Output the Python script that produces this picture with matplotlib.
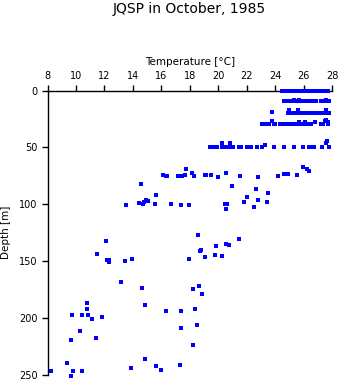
import matplotlib
matplotlib.use('Agg')
import matplotlib.pyplot as plt

# temperature [degC] at the standard bottle depths near the surface
t_0m = [24.5, 24.6, 24.7, 24.8, 24.9, 25.0, 25.1, 25.2, 25.3, 25.4, 25.5, 25.6,
        25.7, 25.8, 25.9, 26.0, 26.1, 26.2, 26.3, 26.4, 26.5, 26.8, 26.95,
        27.25, 27.4, 27.5, 27.6, 27.75]
t_10m = [24.6, 24.7, 24.8, 24.9, 25.0, 25.1, 25.2, 25.3, 25.4, 25.5, 25.6, 25.7,
         25.8, 25.9, 26.0, 26.1, 26.2, 26.3, 26.4, 26.5, 26.75, 26.9,
         27.2, 27.3, 27.4, 27.5, 27.6, 27.7, 27.8]
t_20m = [24.9, 25.0, 25.1, 25.2, 25.3, 25.4, 25.5, 25.6, 25.7, 25.8, 25.9, 26.0,
         26.1, 26.2, 26.3, 26.4, 26.65, 26.8, 26.95,
         27.25, 27.35, 27.45, 27.55, 27.65, 27.8]
t_30m = [23.05, 23.2, 23.35, 23.45, 23.6, 23.9, 24.0, 24.35, 24.5, 24.6, 24.7,
         24.9, 25.0, 25.2, 25.3, 25.45, 25.6, 25.8, 25.9, 26.0, 26.2, 26.3,
         26.4, 26.55, 27.25, 27.4, 27.75]
t_50m = [19.4, 19.55, 19.75, 19.9, 20.25, 20.45, 20.75, 21.05, 21.45, 21.6,
         22.0, 22.15, 22.3, 22.7, 23.05, 23.9, 24.6, 25.3, 25.95, 26.35,
         26.6, 26.75, 27.3, 27.8]

# remaining samples, read individually (temperature, depth)
temp_other = [
    # small offsets around the upper standard depths
    25.3, 25.7, 27.6, 23.75, 25.0, 25.6, 27.6, 23.8, 25.7, 26.1, 26.8,
    27.5, 27.6, 27.7, 20.3, 20.85, 23.3, 27.6, 27.65,
    # 70-105 m
    13.55, 14.4, 14.55, 14.7, 14.8, 14.95, 15.1, 15.57, 15.66, 16.1, 16.3,
    16.4, 16.65, 17.15, 17.3, 17.45, 17.35, 17.73, 17.7, 17.96, 18.15, 18.3,
    19.05, 19.15, 19.5, 19.97, 20.55, 20.45, 20.6, 20.55, 20.97, 21.56,
    21.8, 22.05, 22.54, 22.66, 22.78, 22.78, 23.44, 23.5, 24.18, 24.65,
    24.9, 25.52, 25.94, 26.25, 26.37,
    # 125-180 m
    12.12, 11.46, 12.15, 12.35, 12.33, 13.46, 13.97, 13.15, 14.63, 17.92,
    18.55, 21.44, 19.82, 20.55, 20.73, 18.8, 18.75, 19.1, 19.75, 20.24,
    18.62, 18.2, 18.83,
    # 185-250 m
    10.76, 10.8, 14.82, 9.75, 10.45, 10.88, 11.16, 11.86, 10.31, 9.68,
    11.39, 9.39, 14.82, 15.62, 8.25, 9.82, 10.45, 9.68, 13.9, 15.95,
    16.35, 17.35, 18.34, 17.42, 18.53, 18.2, 17.28,
]
depth_other = [
    8.5, 8.5, 8.5, 18.5, 17.0, 17.0, 17.0, 27.0, 27.5, 27.5, 28.0,
    27.0, 26.0, 27.5, 46.0, 46.0, 48.0, 46.0, 44.5,
    100.4, 98.6, 82.5, 99.5, 98.0, 96.5, 97.7, 99.5, 92.4, 74.5, 75.4,
    75.4, 99.5, 75.4, 75.4, 75.4, 100.4, 69.4, 74.5, 100.4, 73.0, 75.4,
    74.5, 74.5, 74.5, 75.8, 72.2, 99.5, 99.5, 104.7, 84.3, 75.4,
    97.8, 94.0, 102.5, 87.0, 76.0, 96.3, 97.8, 90.0, 75.2, 73.8,
    73.8, 74.5, 67.2, 69.5, 70.7,
    132.7, 143.6, 148.9, 148.9, 151.0, 149.7, 148.6, 168.6, 173.5, 148.6,
    126.8, 130.3, 136.5, 134.8, 135.6, 140.0, 141.5, 146.5, 144.5, 145.3,
    171.8, 174.4, 178.8,
    186.8, 192.0, 188.5, 198.0, 198.0, 198.0, 200.9, 199.1, 211.8, 219.7,
    217.6, 239.7, 236.2, 242.3, 246.7, 246.7, 246.7, 251.0, 244.0, 246.0,
    194.5, 193.8, 192.7, 208.8, 206.2, 223.8, 242.0,
]

levels = [(0.0, t_0m), (9.5, t_10m), (19.5, t_20m), (29.5, t_30m), (50.0, t_50m)]
temp = []
depth = []
for d, ts in levels:
    temp += ts
    depth += [d] * len(ts)
temp += temp_other
depth += depth_other

fig = plt.figure(figsize=(3.41, 3.84), dpi=100)
ax = fig.add_axes([0.1393, 0.0247, 0.8343, 0.7396])

ax.plot(temp, depth, linestyle='none', marker='s', markersize=2.2,
        markeredgewidth=0, color='#0000ff', clip_on=False, zorder=5)

ax.set_xlim(8, 28)
ax.set_ylim(250, 0)
ax.set_xticks(range(8, 29, 2))
ax.set_yticks(range(0, 251, 50))

ax.xaxis.tick_top()
ax.xaxis.set_label_position('top')
ax.spines['right'].set_visible(False)
ax.spines['bottom'].set_visible(False)
for s in ('top', 'left'):
    ax.spines[s].set_linewidth(1.0)
ax.tick_params(direction='out', length=4, width=1.0, labelsize=7, pad=3)

ax.set_xlabel('Temperature [°C]', fontsize=7.5, labelpad=4)
ax.set_ylabel('Depth [m]', fontsize=7.5, labelpad=6)
fig.text(0.556, 0.977, 'JQSP in October, 1985', fontsize=10,
         ha='center', va='center')

fig.savefig('out.png', dpi=100)
